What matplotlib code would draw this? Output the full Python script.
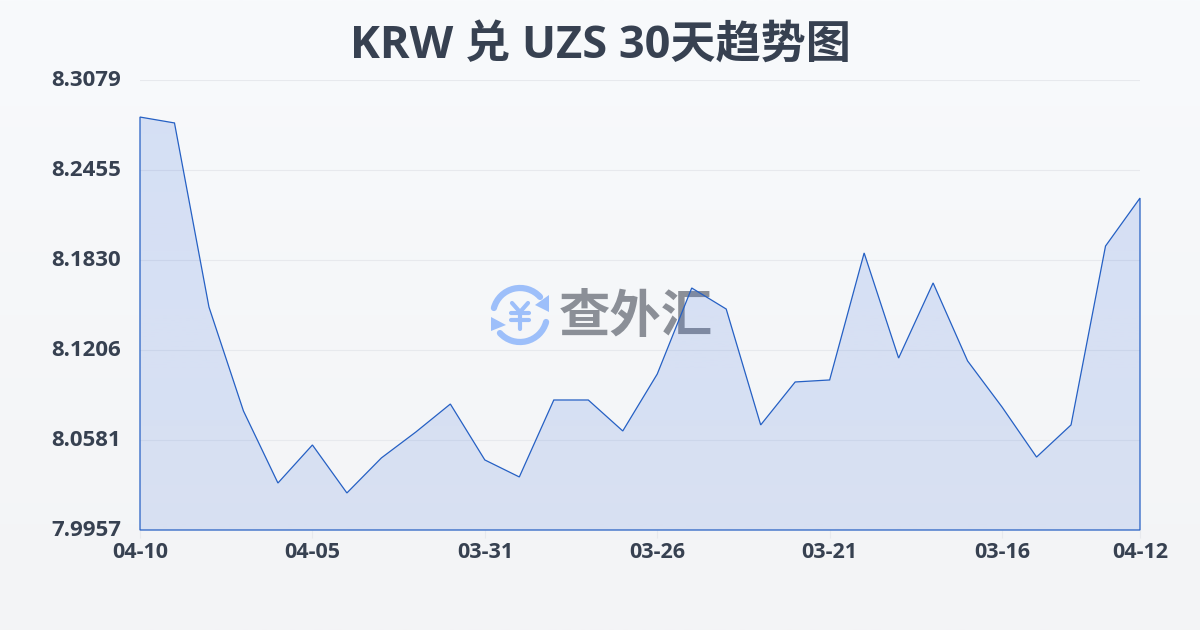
import numpy as np
import matplotlib
matplotlib.use('Agg')
import matplotlib.pyplot as plt
from matplotlib.patches import Arc, Polygon
from matplotlib.transforms import ScaledTranslation

plt.rcParams['font.family'] = ['Open Sans', 'Noto Sans CJK SC', 'DejaVu Sans']

# values
rates = [8.2822, 8.2781, 8.1504, 8.0783, 8.0283, 8.0547, 8.0214, 8.0457, 8.0637, 8.0831,
         8.0443, 8.0325, 8.0859, 8.0859, 8.0644, 8.1039, 8.1636, 8.1490, 8.0686, 8.0984,
         8.0998, 8.1879, 8.1150, 8.1671, 8.1130, 8.0810, 8.0463, 8.0686, 8.1927, 8.2260]
x_ticks = [0, 5, 10, 15, 20, 25, 29]
x_labels = ['04-10', '04-05', '03-31', '03-26', '03-21', '03-16', '04-12']
y_ticks = [7.9957, 8.0581, 8.1206, 8.1830, 8.2455, 8.3079]
y_labels = ['7.9957', '8.0581', '8.1206', '8.1830', '8.2455', '8.3079']
title = 'KRW 兑 UZS 30天趋势图'

W, H = 1200, 630
fig = plt.figure(figsize=(W / 100, H / 100), dpi=100)

# page background gradient
bg = fig.add_axes([0, 0, 1, 1], zorder=0)
bg.axis('off')
top = np.array([248, 250, 252]) / 255
bottom = np.array([243, 244, 246]) / 255
t = np.linspace(0, 1, 256)[:, None, None]
bg.imshow(top * (1 - t) + bottom * t, extent=[0, W, H, 0], aspect='auto')
bg.set_xlim(0, W)
bg.set_ylim(H, 0)

# watermark logo, pixel coordinates
blue = '#9dbffa'
gray = '#8b8f97'
cx, cy = 520, 315
bg.add_patch(Arc((cx, cy), 54, 54, theta1=195, theta2=318, color=blue, lw=4.5, capstyle='round'))
bg.add_patch(Arc((cx, cy), 54, 54, theta1=15, theta2=138, color=blue, lw=4.5, capstyle='round'))
bg.add_patch(Polygon([[549, 295], [549, 312], [535, 305]], color=blue, lw=0))
bg.add_patch(Polygon([[491, 317], [491, 331], [506, 325]], color=blue, lw=0))
for xs, ys in [([512, 520, 528], [303, 312, 303]), ([511, 529], [313, 313]),
               ([511, 529], [320, 320]), ([520, 520], [312, 329])]:
    bg.plot(xs, ys, color=blue, lw=3, solid_capstyle='round', solid_joinstyle='round')
bg.text(636, 319, '查外汇', color=gray, fontsize=37, fontweight='bold', ha='center', va='center')

ax = fig.add_axes([140 / W, 1 - 530 / H, 1000 / W, 450 / H], zorder=1)
ax.patch.set_alpha(0)

ax.grid(axis='y', color='#e7e9ed', lw=0.8)
ax.set_axisbelow(True)
for s in ax.spines.values():
    s.set_visible(False)

x = np.arange(len(rates))
# fill with a soft vertical gradient, clipped to the area under the line
poly = Polygon(np.column_stack([np.r_[x, x[-1], x[0]], np.r_[rates, 7.9957, 7.9957]]),
               closed=True, facecolor='none', edgecolor='#2560c4', lw=0.9, zorder=4, clip_on=False)
ax.add_patch(poly)
grad = np.zeros((256, 1, 4))
grad[..., :3] = np.array([59, 110, 220]) / 255
grad[..., 3] = np.linspace(0.18, 0.15, 256)[:, None]
im = ax.imshow(grad, extent=[0, 29, 7.9957, 8.3079], aspect='auto', origin='upper', zorder=3)
im.set_clip_path(poly)
ax.set_xlim(0, 29)
ax.set_ylim(7.9957, 8.3079)

ax.set_xticks(x_ticks, x_labels)
ax.set_yticks(y_ticks, y_labels)
ax.tick_params(axis='x', length=6, width=0.8, color='#e7e9ed', pad=3, labelsize=15.5, labelcolor='#374151')
ax.tick_params(axis='y', length=0, pad=13.5, labelsize=16, labelcolor='#374151')
shift = ScaledTranslation(0, 2 / 100, fig.dpi_scale_trans)
for lab in ax.get_xticklabels():
    lab.set_fontweight('bold')
for lab in ax.get_yticklabels():
    lab.set_fontweight('bold')
    lab.set_transform(lab.get_transform() + shift)

fig.text(0.5, 1 - 46 / H, title, color='#374151', fontsize=32.5, fontweight='bold', ha='center', va='center')

fig.savefig('out.png', dpi=100)
